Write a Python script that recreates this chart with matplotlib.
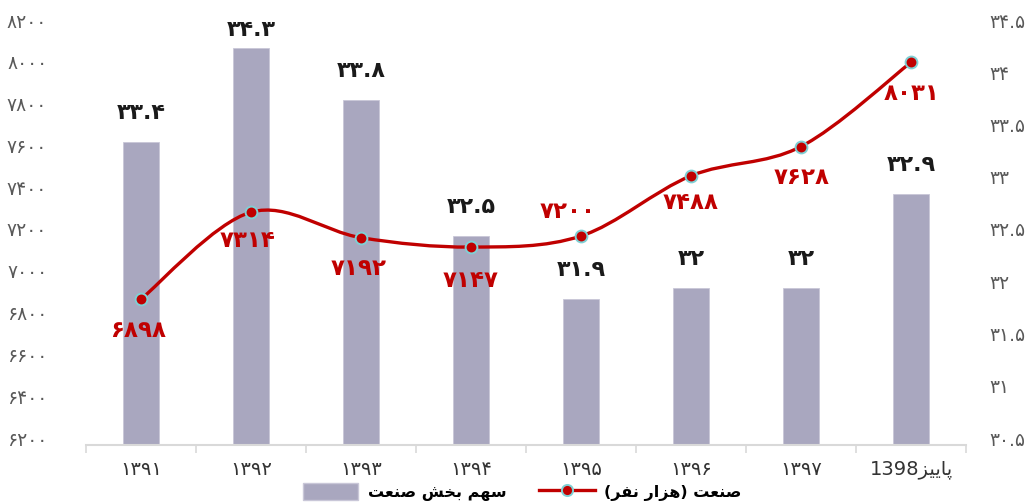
import matplotlib
matplotlib.use("Agg")
import matplotlib.pyplot as plt
from matplotlib.path import Path
from matplotlib.patches import PathPatch, Patch
from matplotlib.lines import Line2D
from matplotlib.transforms import ScaledTranslation
import numpy as np

# ---------------- data ----------------
categories = ["1391", "1392", "1393", "1394", "1395", "1396", "1397", "پاییز1398"]
employment = [6898, 7314, 7192, 7147, 7200, 7488, 7628, 8031]   # left axis (thousand persons)
share = [33.4, 34.3, 33.8, 32.5, 31.9, 32, 32, 32.9]             # right axis (%)
left_ticks = [6200, 6400, 6600, 6800, 7000, 7200, 7400, 7600, 7800, 8000, 8200]
right_ticks = [30.5, 31, 31.5, 32, 32.5, 33, 33.5, 34, 34.5]
legend_bar = "سهم بخش صنعت"
legend_line = "صنعت (هزار نفر)"

# ---------------- minimal Persian shaping (matplotlib has no bidi/shaping) ----------------
FORMS = {  # iso, fin, ini, med  (None -> right-joining only)
    "ا": (0xFE8D, 0xFE8E, None, None),
    "ب": (0xFE8F, 0xFE90, 0xFE91, 0xFE92),
    "پ": (0xFB56, 0xFB57, 0xFB58, 0xFB59),
    "ت": (0xFE95, 0xFE96, 0xFE97, 0xFE98),
    "خ": (0xFEA5, 0xFEA6, 0xFEA7, 0xFEA8),
    "ر": (0xFEAD, 0xFEAE, None, None),
    "ز": (0xFEAF, 0xFEB0, None, None),
    "س": (0xFEB1, 0xFEB2, 0xFEB3, 0xFEB4),
    "ش": (0xFEB5, 0xFEB6, 0xFEB7, 0xFEB8),
    "ص": (0xFEB9, 0xFEBA, 0xFEBB, 0xFEBC),
    "ع": (0xFEC9, 0xFECA, 0xFECB, 0xFECC),
    "ف": (0xFED1, 0xFED2, 0xFED3, 0xFED4),
    "م": (0xFEE1, 0xFEE2, 0xFEE3, 0xFEE4),
    "ن": (0xFEE5, 0xFEE6, 0xFEE7, 0xFEE8),
    "ه": (0xFEE9, 0xFEEA, 0xFEEB, 0xFEEC),
    "ی": (0xFBFC, 0xFBFD, 0xFBFE, 0xFBFF),
}
MIRROR = {"(": ")", ")": "("}


def shape(text):
    out = []
    for i, ch in enumerate(text):
        if ch not in FORMS:
            out.append(ch)
            continue
        prev = text[i - 1] if i > 0 else ""
        nxt = text[i + 1] if i + 1 < len(text) else ""
        jp = prev in FORMS and FORMS[prev][2] is not None
        jn = FORMS[ch][2] is not None and nxt in FORMS
        f = FORMS[ch]
        if jp and jn:
            c = f[3]
        elif jp:
            c = f[1]
        elif jn:
            c = f[2]
        else:
            c = f[0]
        out.append(chr(c))
    return "".join(out)


def rtl(text):
    if not any(ch in FORMS for ch in text):
        return text
    s = shape(text)
    runs, cur, cur_ltr = [], "", None
    for ch in s:
        is_ltr = ch.isdigit() and ch.isascii()
        if cur_ltr is None or is_ltr == cur_ltr:
            cur += ch
        else:
            runs.append((cur, cur_ltr))
            cur = ch
        cur_ltr = is_ltr
    runs.append((cur, cur_ltr))
    vis = []
    for r, is_ltr in reversed(runs):
        vis.append(r if is_ltr else "".join(MIRROR.get(c, c) for c in reversed(r)))
    return "".join(vis)


FA = str.maketrans("0123456789", "۰۱۲۳۴۵۶۷۸۹")


def fa(v):
    if isinstance(v, float) and v.is_integer():
        v = int(v)
    return str(v).translate(FA)


# ---------------- figure ----------------
W, H, DPI = 1029, 504, 100
fig = plt.figure(figsize=(W / DPI, H / DPI), dpi=DPI)
ax = fig.add_axes([86 / W, (H - 445) / H, (966 - 86) / W, (445 - 27) / H])
ax2 = ax.twinx()
ax.set_zorder(ax2.get_zorder() + 1)
ax.patch.set_visible(False)

fam = ["DejaVu Sans"]
x = np.arange(len(categories))
bar_color = "#A9A7BF"
red = "#C00000"

ax2.bar(x, share, width=0.32, color=bar_color, edgecolor="#C9C7D8", linewidth=0.6)
ax2.set_ylim(30.5, 34.5)
ax.set_ylim(6200, 8200)
ax.set_xlim(-0.5, len(categories) - 0.5)

# smooth line (Catmull-Rom -> cubic Bezier through data points)
pts = np.column_stack([x, employment]).astype(float)
verts = [tuple(pts[0])]
codes = [Path.MOVETO]
n = len(pts)
for i in range(n - 1):
    p0 = pts[max(i - 1, 0)]
    p1 = pts[i]
    p2 = pts[i + 1]
    p3 = pts[min(i + 2, n - 1)]
    c1 = p1 + (p2 - p0) / 6.0
    c2 = p2 - (p3 - p1) / 6.0
    verts += [tuple(c1), tuple(c2), tuple(p2)]
    codes += [Path.CURVE4] * 3
ax.add_patch(PathPatch(Path(verts, codes), facecolor="none", edgecolor=red,
                       linewidth=2.4, capstyle="round", zorder=3))
ax.plot(x, employment, linestyle="none", marker="o", markersize=8.5,
        markerfacecolor=red, markeredgecolor="#7FD0D4", markeredgewidth=1.4, zorder=4)

# data labels
bar_label_dy = [29, 18, 29, 29, 29, 29, 29, 29]           # pixels above bar top
line_label_off = [(-3, -31), (-3, -28), (-2, -31), (0, -33),
                  (-13, 24), (0, -27), (1, -31), (1, -31)]  # pixels (dx, dy)
for i in range(len(categories)):
    ax2.annotate(fa(share[i]), (x[i], share[i]), xytext=(0, bar_label_dy[i] * 72 / DPI),
                 textcoords="offset points", ha="center", va="center",
                 fontsize=16, fontweight="bold", color="#1a1a1a", family=fam)
    dx, dy = line_label_off[i]
    ax.annotate(fa(employment[i]), (x[i], employment[i]),
                xytext=(dx * 72 / DPI, dy * 72 / DPI), textcoords="offset points",
                ha="center", va="center", fontsize=16.5, fontweight="bold",
                color=red, family=fam, zorder=5)

# axes styling
for a in (ax, ax2):
    for s in ("left", "right", "top", "bottom"):
        a.spines[s].set_visible(False)
ax.spines["bottom"].set_visible(True)
ax.spines["bottom"].set_color("#D9D9D9")
ax.spines["bottom"].set_linewidth(1.5)

ax.set_yticks(left_ticks)
ax.set_yticklabels([fa(t) for t in left_ticks], family=fam, fontsize=13.5, color="#595959")
ax2.set_yticks(right_ticks)
ax2.set_yticklabels([fa(t) for t in right_ticks], family=fam, fontsize=13.5, color="#595959")
ax.tick_params(axis="y", length=0, pad=28)
ax2.tick_params(axis="y", length=0, pad=17)
for lab in ax2.get_yticklabels():
    lab.set_ha("left")

shift = ScaledTranslation(0, 7 / DPI, fig.dpi_scale_trans)
for t in ax.yaxis.get_major_ticks():
    t.label1.set_transform(t.label1.get_transform() + shift)
for t in ax2.yaxis.get_major_ticks():
    t.label2.set_transform(t.label2.get_transform() + shift)

ax.set_xticks(x)
ax.set_xticklabels([rtl(c) if any(ch in FORMS for ch in c) else fa(c) for c in categories],
                   family=fam, fontsize=14, color="#333333")
ax.set_xticks(np.arange(-0.5, len(categories)), minor=True)
ax.tick_params(axis="x", which="major", length=0, pad=11)
ax.tick_params(axis="x", which="minor", length=6, color="#D9D9D9", width=1.2)
ax2.tick_params(axis="x", length=0)

# legend
handles = [Patch(facecolor=bar_color, edgecolor="#C9C7D8"),
           Line2D([0], [0], color=red, linewidth=2.4, marker="o", markersize=8,
                  markerfacecolor=red, markeredgecolor="#7FD0D4", markeredgewidth=1.4)]
fig.legend(handles, [rtl(legend_bar), rtl(legend_line)], loc="center",
           bbox_to_anchor=(522 / W, 1 - 492 / H), ncol=2, frameon=False,
           prop={"family": fam, "size": 11.5, "weight": "bold"},
           handlelength=3.5, handleheight=1.2, columnspacing=2.0, handletextpad=0.6)

fig.savefig("out.png", dpi=DPI)
